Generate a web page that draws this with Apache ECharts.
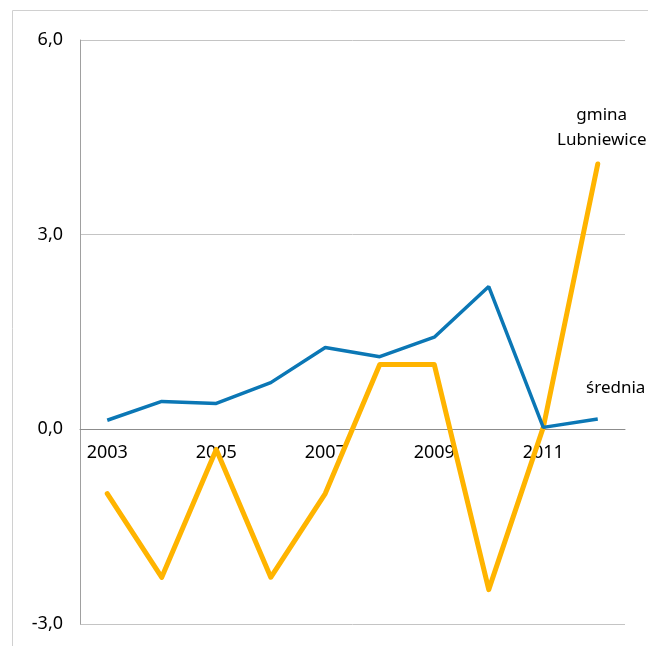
<!DOCTYPE html>
<html><head><meta charset="utf-8">
<script src="https://cdn.jsdelivr.net/npm/echarts@6/dist/echarts.min.js"></script>
<style>html,body{margin:0;padding:0;background:#fff}#c{width:648px;height:646px}</style>
</head><body><div id="c"></div>
<script>
const years = ['2003','2004','2005','2006','2007','2008','2009','2010','2011','2012'];
const sredniaValues = [0.14, 0.43, 0.40, 0.72, 1.26, 1.12, 1.42, 2.20, 0.03, 0.16];
const gminaValues = [-0.99, -2.28, -0.31, -2.28, -0.99, 1.00, 1.00, -2.47, 0.03, 4.09];
const sredniaName = 'średnia';
const gminaName = 'gmina\nLubniewice';
const yTicks = [-3, 0, 3, 6];

const FONT = 'Noto Sans';
const FS = 18;
const W = 648, H = 646;
const GRID = { left: 80, right: 23, top: 40, bottom: 22 };
const yMin = yTicks[0], yMax = yTicks[yTicks.length - 1];
const gridH = H - GRID.top - GRID.bottom;
// lift the category axis up to the value 0
const xAxisOffset = -((0 - yMin) / (yMax - yMin)) * gridH;

const chart = echarts.init(document.getElementById('c'));
chart.setOption({
  animation: false,
  graphic: [{ type: 'rect', shape: { x: 12.5, y: 10.5, width: 700, height: 700 }, style: { fill: 'none', stroke: '#d0d0d0', lineWidth: 1 }, silent: true }],
  grid: Object.assign({ containLabel: false, outerBoundsMode: 'none' }, GRID),
  xAxis: {
    type: 'category', data: years, boundaryGap: true, position: 'bottom', offset: xAxisOffset, z: 0,
    axisLine: { show: true, onZero: false, lineStyle: { color: '#8c8c8c', width: 1 } },
    axisTick: { show: false },
    axisLabel: { interval: 1, margin: 15, color: '#000', fontFamily: FONT, fontSize: FS },
    splitLine: { show: false }
  },
  yAxis: {
    type: 'value', min: yMin, max: yMax, interval: 3,
    axisLine: { show: true, onZero: false, lineStyle: { color: '#a0a0a0', width: 1 } },
    axisTick: { show: false },
    axisLabel: { margin: 17, color: '#000', fontFamily: FONT, fontSize: FS, formatter: v => v.toFixed(1).replace('.', ',') },
    splitLine: { show: true, lineStyle: { color: '#c4c4c4', width: 1 } }
  },
  series: [
    { name: 'srednia', type: 'line', data: sredniaValues, symbol: 'none',
      endLabel: { show: true, formatter: sredniaName, position: 'inside', distance: 0, align: 'center', verticalAlign: 'middle', offset: [18, -31], color: '#000', fontFamily: FONT, fontSize: 17 },
      lineStyle: { color: '#0b77b5', width: 3.5 }, z: 3 },
    { name: 'gmina', type: 'line', data: gminaValues, symbol: 'none',
      endLabel: { show: true, formatter: gminaName, position: 'inside', distance: 0, align: 'center', verticalAlign: 'middle', lineHeight: 25, offset: [4, -36], color: '#000', fontFamily: FONT, fontSize: 17 },
      lineStyle: { color: '#ffb400', width: 5, cap: 'round', join: 'round' }, z: 2 }
  ]
});
</script></body></html>
